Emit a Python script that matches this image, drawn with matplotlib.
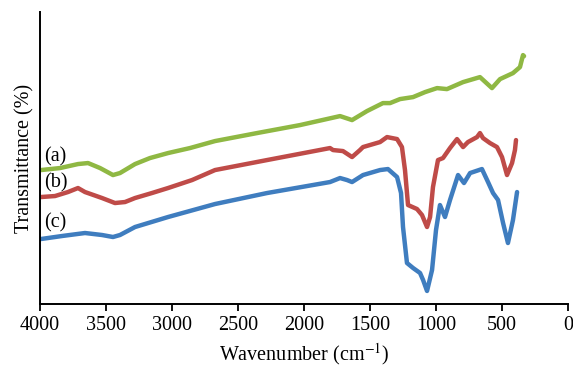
import matplotlib
matplotlib.use("Agg")
import matplotlib.pyplot as plt

# spectra (wavenumber cm-1, transmittance in arbitrary units)
wn_a = [3992, 3848, 3712, 3636, 3545, 3447, 3394, 3280, 3167, 3030, 2864, 2674,
        2356, 2030, 1727, 1636, 1523, 1402, 1348, 1273, 1174, 1083, 992, 917,
        795, 667, 576, 515, 417, 364, 341, 333]
t_a = [134, 136, 140, 141, 136, 129, 131, 140, 146, 151, 156, 163,
       171, 179, 188, 184, 193, 201, 201, 205, 207, 212, 216, 215,
       222, 227, 216, 225, 231, 237, 249, 248]

wn_b = [3992, 3886, 3788, 3712, 3659, 3530, 3432, 3356, 3280, 3152, 3030, 2848,
        2674, 2280, 1803, 1780, 1705, 1636, 1576, 1553, 1424, 1371, 1295, 1258,
        1235, 1212, 1144, 1106, 1068, 1045, 1023, 985, 947, 894, 841, 795,
        758, 689, 667, 644, 591, 538, 500, 462, 424, 402, 394]
t_b = [107, 108, 112, 116, 112, 106, 101, 102, 106, 111, 116, 124,
       134, 144, 156, 154, 153, 147, 154, 157, 162, 167, 165, 157,
       134, 99, 95, 89, 77, 87, 117, 144, 146, 156, 165, 157,
       162, 167, 171, 166, 161, 157, 147, 129, 141, 154, 164]

wn_c = [3992, 3833, 3659, 3530, 3447, 3394, 3280, 3030, 2674, 2280, 1803, 1727,
        1674, 1636, 1553, 1424, 1364, 1295, 1265, 1250, 1220, 1174, 1121, 1098,
        1068, 1030, 1000, 970, 932, 894, 833, 788, 742, 652, 606, 568,
        530, 492, 455, 417, 386]
t_c = [65, 68, 71, 69, 67, 69, 77, 87, 100, 111, 122, 126,
       124, 122, 129, 134, 135, 127, 111, 77, 41, 36, 31, 24,
       13, 34, 74, 99, 87, 104, 129, 121, 131, 135, 122, 111,
       104, 81, 61, 84, 112]

labels = ["(a)", "(b)", "(c)"]
label_y = [147, 121, 81]
colors = ["#8fb843", "#bf4b48", "#3f7dbf"]
xticks = [4000, 3500, 3000, 2500, 2000, 1500, 1000, 500, 0]

plt.rcParams["font.family"] = ["Liberation Serif", "DejaVu Serif"]
plt.rcParams["mathtext.fontset"] = "stix"
fs = 14.5

fig = plt.figure(figsize=(5.73, 3.68), dpi=100)
ax = fig.add_axes([0.0698, 0.174, 0.9215, 0.793])

for wn, t, c in zip([wn_a, wn_b, wn_c], [t_a, t_b, t_c], colors):
    ax.plot(wn, t, color=c, lw=3.2, solid_joinstyle="round", solid_capstyle="round")

for lab, y in zip(labels, label_y):
    ax.text(3970, y, lab, fontsize=fs, ha="left", va="center")

ax.set_xlim(4000, 0)
ax.set_ylim(0, 292)
ax.set_xticks(xticks)
ax.set_yticks([])
ax.tick_params(axis="x", labelsize=fs, length=5, width=1.3, direction="out", pad=4)
ax.spines["top"].set_visible(False)
ax.spines["right"].set_visible(False)
ax.spines["left"].set_linewidth(1.4)
ax.spines["bottom"].set_linewidth(1.4)
ax.set_xlabel("Wavenumber (cm$^{-1}$)", fontsize=fs, labelpad=4)
ax.set_ylabel("Transmittance (%)", fontsize=fs, labelpad=4)

fig.savefig("out.png", dpi=100)
